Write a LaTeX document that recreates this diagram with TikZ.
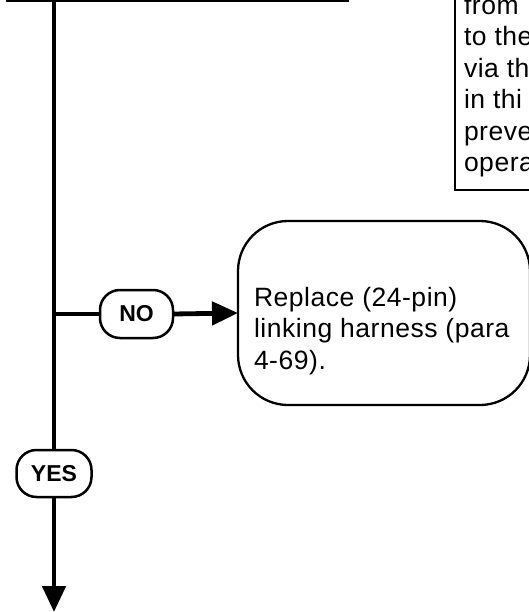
\documentclass[tikz,border=0pt]{standalone}
\usepackage{fontspec}
\setmainfont{Liberation Sans}
\newfontfamily\stepfont{Liberation Sans}[LetterSpace=2, WordSpace=1.0]
\usepackage{tikz}
\usetikzlibrary{positioning,arrows.meta}

\begin{document}
\begin{tikzpicture}[x=1pt, y=-1pt,
  every node/.style={inner sep=0pt, outer sep=0pt},
  stepbox/.style={draw, line width=2.3pt, fill=white},
  steptext/.style={anchor=base west, align=left, font=\stepfont\fontsize{26.5}{31.5}\selectfont},
  answer/.style={draw, line width=2.5pt, fill=white, rounded corners=20pt,
    minimum width=73pt, minimum height=48pt, font=\fontsize{23}{23}\selectfont\bfseries},
  flow/.style={line width=4.8pt},
  flowarrow/.style={flow, -{Triangle[length=26pt, width=23pt]}}]
  \useasboundingbox (0,0) rectangle (529,612);
  \clip (0,0) rectangle (529,612);
  % boxes cut off by the page edge
  \node[stepbox, minimum width=341pt, minimum height=80pt] (check) at (177.5,-38.8) {};
  \node[stepbox, minimum width=160pt, minimum height=260pt] (note) at (535,60) {};
  \node[steptext] (notetext) at (464,172) {from\\to the\\via th\\in thi\\preve\\opera};
  % repair step
  \node[stepbox, rounded corners=50pt, minimum width=292pt, minimum height=184pt] (fix) at (384,313) {};
  \node[steptext] (fixtext) at (254,369) {Replace (24-pin)\\linking harness (para\\4-69).};
  % answers
  \node[answer] (no) at (136.5,314) {NO};
  \node[answer, minimum width=75pt, minimum height=47pt] (yes) at (54,473.5) {YES};
  \coordinate (fork) at (54,314);
  \coordinate (exit) at (54,612);
  \draw[flow] (exit |- check.south) -- (yes.north);
  \draw[flowarrow] (yes.south) -- (exit);
  \draw[flow] (fork) -- (no.west);
  \draw[flowarrow] (no.east) -- (fix.west);
\end{tikzpicture}
\end{document}
